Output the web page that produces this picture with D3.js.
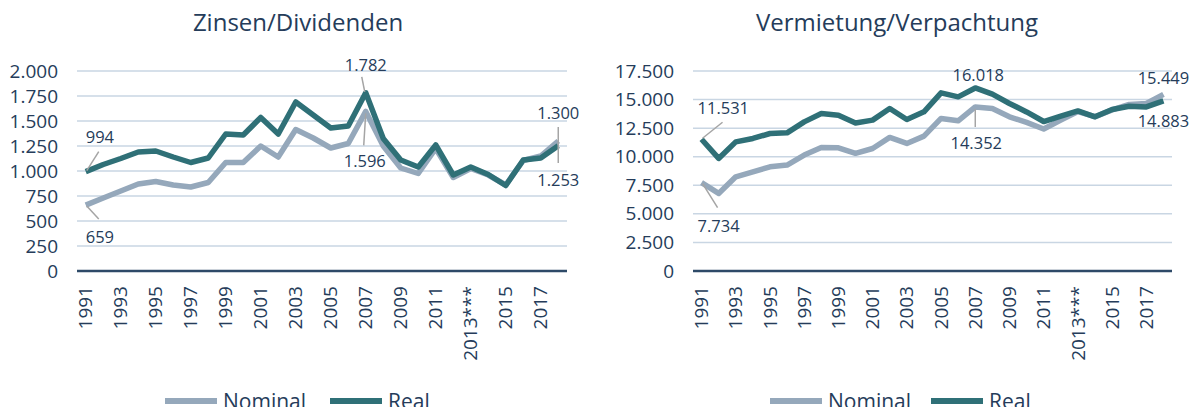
<!DOCTYPE html>
<meta charset="utf-8">
<style>
    body {
        margin: 0;
        background: #fff;
        font-family: "Open Sans", sans-serif;
    }

    text {
        fill: #253c5a;
    }

    .grid line {
        stroke: #c9d6e3;
        stroke-width: 1.5px;
    }

    .baseline {
        stroke: #2e4a68;
        stroke-width: 2.5px;
    }

    .series {
        fill: none;
        stroke-width: 5.5px;
        stroke-linejoin: round;
    }

    .leader {
        stroke: #a5a5a5;
        stroke-width: 1.5px;
    }
</style>

<body>
    <svg id="chart" width="1193" height="407"></svg>

    <script src="https://cdnjs.cloudflare.com/ajax/libs/d3/7.8.5/d3.min.js"></script>

    <script>
        // years 1991 - 2018, 2013 carries a footnote mark
        var years = [1991, 1992, 1993, 1994, 1995, 1996, 1997, 1998, 1999, 2000,
            2001, 2002, 2003, 2004, 2005, 2006, 2007, 2008, 2009, 2010,
            2011, 2012, 2013, 2014, 2015, 2016, 2017, 2018];
        var yearLabels = years.map(function (y) { return y === 2013 ? "2013***" : String(y); });

        var seriesNames = ["Nominal", "Real"];
        var seriesColors = ["#95a8bb", "#2f7077"];

        var zinsenNominal = [659, 730, 800, 870, 895, 860, 840, 885, 1085, 1085,
            1250, 1140, 1415, 1330, 1230, 1275, 1596, 1250, 1030, 975,
            1225, 935, 1025, 960, 860, 1105, 1150, 1300];
        var zinsenReal = [994, 1065, 1125, 1190, 1200, 1140, 1085, 1130, 1370, 1360,
            1535, 1370, 1690, 1560, 1430, 1450, 1782, 1325, 1110, 1040,
            1260, 960, 1040, 965, 855, 1110, 1130, 1253];
        var zinsenTicks = [0, 250, 500, 750, 1000, 1250, 1500, 1750, 2000];

        var mieteNominal = [7734, 6790, 8240, 8680, 9120, 9270, 10140, 10810, 10780, 10300,
            10720, 11690, 11160, 11800, 13350, 13140, 14352, 14220, 13490, 13000,
            12420, 13200, 13950, 13500, 14100, 14570, 14660, 15449];
        var mieteReal = [11531, 9850, 11300, 11600, 12030, 12090, 13050, 13780, 13630, 12950,
            13200, 14220, 13260, 13930, 15590, 15240, 16018, 15470, 14660, 13920,
            13080, 13550, 14010, 13490, 14130, 14420, 14360, 14883];
        var mieteTicks = [0, 2500, 5000, 7500, 10000, 12500, 15000, 17500];

        var de = d3.formatLocale({ decimal: ",", thousands: ".", grouping: [3], currency: ["", "€"] });
        var fmt = de.format(",d");

        var svg = d3.select("#chart");

        function drawPanel(opt) {
            var g = svg.append("g");

            var x = d3.scalePoint()
                .domain(yearLabels)
                .range([opt.left, opt.right])
                .padding(0.5);
            var y = d3.scaleLinear()
                .domain([0, d3.max(opt.ticks)])
                .range([opt.bottom, opt.top]);

            g.append("text")
                .attr("x", opt.titleX)
                .attr("y", 31)
                .attr("text-anchor", "middle")
                .style("font-size", "24px")
                .text(opt.title);

            var grid = g.append("g").attr("class", "grid");
            grid.selectAll("line")
                .data(opt.ticks.slice(1))
                .enter().append("line")
                .attr("x1", opt.left)
                .attr("x2", opt.right)
                .attr("y1", function (d) { return y(d); })
                .attr("y2", function (d) { return y(d); });

            g.append("g")
                .attr("transform", "translate(" + (opt.left - 19) + ",0)")
                .call(d3.axisLeft(y).tickValues(opt.ticks).tickSize(0).tickPadding(0).tickFormat(fmt))
                .call(function (a) {
                    a.select(".domain").remove();
                    a.selectAll("text")
                        .style("font-size", "19px")
                        .style("font-family", "'Open Sans', sans-serif")
                        .attr("fill", "#253c5a");
                });

            g.append("line")
                .attr("class", "baseline")
                .attr("x1", opt.left)
                .attr("x2", opt.right)
                .attr("y1", y(0))
                .attr("y2", y(0));

            // category labels, every second year
            g.selectAll(".xlab")
                .data(yearLabels.filter(function (d, i) { return i % 2 === 0; }))
                .enter().append("text")
                .attr("class", "xlab")
                .attr("text-anchor", "end")
                .attr("dy", "0.35em")
                .style("font-size", "19px")
                .attr("transform", function (d) {
                    return "translate(" + x(d) + "," + (opt.bottom + 15) + ") rotate(-90)";
                })
                .text(function (d) { return d; });

            var line = d3.line()
                .x(function (d, i) { return x(yearLabels[i]); })
                .y(function (d) { return y(d); });

            opt.series.forEach(function (s, k) {
                g.append("path")
                    .datum(s)
                    .attr("class", "series")
                    .attr("stroke", seriesColors[k])
                    .attr("d", line);
            });

            // data labels with leader lines
            opt.notes.forEach(function (n) {
                var v = opt.series[n.s][n.i];
                var px = x(yearLabels[n.i]), py = y(v);
                if (n.lead) {
                    g.append("line")
                        .attr("class", "leader")
                        .attr("x1", px + n.lead[0])
                        .attr("y1", py + n.lead[1])
                        .attr("x2", px + n.lead[2])
                        .attr("y2", py + n.lead[3]);
                }
                g.append("text")
                    .attr("x", px + n.dx)
                    .attr("y", py + n.dy)
                    .attr("text-anchor", n.anchor || "start")
                    .style("font-size", "16.5px")
                    .text(fmt(v));
            });

            // legend
            seriesNames.forEach(function (name, k) {
                var lx = opt.legendX[k];
                g.append("line")
                    .attr("x1", lx)
                    .attr("x2", lx + 52)
                    .attr("y1", 401)
                    .attr("y2", 401)
                    .attr("stroke", seriesColors[k])
                    .attr("stroke-width", 6);
                g.append("text")
                    .attr("x", lx + 58)
                    .attr("y", 409)
                    .style("font-size", "21px")
                    .text(name);
            });
        }

        drawPanel({
            title: "Zinsen/Dividenden",
            titleX: 298,
            left: 77, right: 567, top: 71, bottom: 271,
            ticks: zinsenTicks,
            series: [zinsenNominal, zinsenReal],
            legendX: [165, 330],
            notes: [
                { s: 1, i: 0, dx: 0, dy: -29, lead: [1, -1, 13, -20] },
                { s: 0, i: 0, dx: 0, dy: 38, lead: [1, 1, 13, 14] },
                { s: 1, i: 16, dx: 0, dy: -22, anchor: "middle", lead: [-1, -1, -4, -16] },
                { s: 0, i: 16, dx: -1, dy: 56, anchor: "middle", lead: [0, 2, -2, 34] },
                { s: 0, i: 27, dx: 0, dy: -22, anchor: "middle", lead: [0, -14, 0, 22] },
                { s: 1, i: 27, dx: 0, dy: 40, anchor: "middle" }
            ]
        });

        drawPanel({
            title: "Vermietung/Verpachtung",
            titleX: 897,
            left: 693, right: 1172, top: 71, bottom: 271,
            ticks: mieteTicks,
            series: [mieteNominal, mieteReal],
            legendX: [770, 931],
            notes: [
                { s: 1, i: 0, dx: -4, dy: -25, lead: [1, -1, 21, -17] },
                { s: 0, i: 0, dx: -4, dy: 49, lead: [1, 1, 16, 25] },
                { s: 1, i: 16, dx: 3, dy: -7, anchor: "middle" },
                { s: 0, i: 16, dx: 1, dy: 42, anchor: "middle", lead: [0, 2, 0, 20] },
                { s: 0, i: 27, dx: 0, dy: -10, anchor: "middle" },
                { s: 1, i: 27, dx: 0, dy: 26, anchor: "middle" }
            ]
        });
    </script>
</body>
